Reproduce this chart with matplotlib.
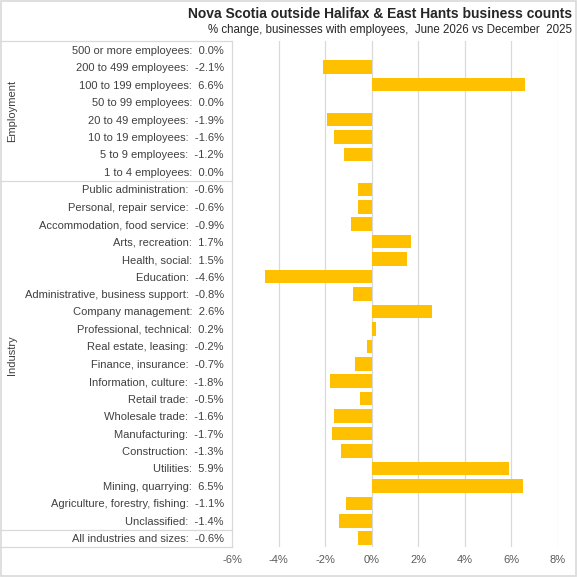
import matplotlib
matplotlib.use("Agg")
import matplotlib.pyplot as plt
from matplotlib.patches import Rectangle
from matplotlib.lines import Line2D

plt.rcParams['font.family'] = ['Liberation Sans Narrow', 'Liberation Sans', 'DejaVu Sans']

employment_labels = ["500 or more employees", "200 to 499 employees", "100 to 199 employees",
                     "50 to 99 employees", "20 to 49 employees", "10 to 19 employees",
                     "5 to 9 employees", "1 to 4 employees"]
employment_values = [0.0, -2.1, 6.6, 0.0, -1.9, -1.6, -1.2, 0.0]

industry_labels = ["Public administration", "Personal, repair service", "Accommodation, food service",
                   "Arts, recreation", "Health, social", "Education", "Administrative, business support",
                   "Company management", "Professional, technical", "Real estate, leasing",
                   "Finance, insurance", "Information, culture", "Retail trade", "Wholesale trade",
                   "Manufacturing", "Construction", "Utilities", "Mining, quarrying",
                   "Agriculture, forestry, fishing", "Unclassified"]
industry_values = [-0.6, -0.6, -0.9, 1.7, 1.5, -4.6, -0.8, 2.6, 0.2, -0.2, -0.7, -1.8, -0.5,
                   -1.6, -1.7, -1.3, 5.9, 6.5, -1.1, -1.4]

total_labels = ["All industries and sizes"]
total_values = [-0.6]

group_names = ["Employment", "Industry", ""]
x_ticks = [-6, -4, -2, 0, 2, 4, 6, 8]

title = "Nova Scotia outside Halifax & East Hants business counts"
subtitle = "% change, businesses with employees,  June 2026 vs December  2025"

labels = employment_labels + industry_labels + total_labels
values = employment_values + industry_values + total_values
groups = [employment_labels, industry_labels, total_labels]

W, H = 577, 577
fig = plt.figure(figsize=(W / 100, H / 100), dpi=100)
fig.patch.set_facecolor('white')
fig.add_artist(Rectangle((0.001, 0.001), 0.997, 0.997, transform=fig.transFigure,
                         fill=False, edgecolor='#d9d9d9', linewidth=1.2))

left, right, top, bottom = 232 / W, 558 / W, 1 - 41 / H, 1 - 547 / H
ax = fig.add_axes([left, bottom, right - left, top - bottom])

n = len(labels)
ypos = list(range(n))
ax.barh(ypos, values, height=0.78, color='#FFC000', zorder=3)
ax.set_ylim(n - 0.5, -0.5)
ax.set_xlim(x_ticks[0], x_ticks[-1])
ax.set_xticks(x_ticks)
ax.set_xticklabels([f"{t}%" for t in x_ticks], color='#595959', fontsize=8)
ax.set_yticks(ypos)
ax.set_yticklabels([f"{l}:  {v:.1f}%" for l, v in zip(labels, values)], color='#404040', fontsize=8)
ax.tick_params(axis='both', length=0)
ax.tick_params(axis='y', pad=6)
ax.tick_params(axis='x', pad=6)
for s in ax.spines.values():
    s.set_visible(False)
for t in x_ticks[1:]:
    ax.axvline(t, color='#d9d9d9', linewidth=0.9, zorder=1)

# table lines on the category side
tr = ax.get_yaxis_transform()
x0 = -left / (right - left)
line_kw = dict(color='#d9d9d9', linewidth=0.9, clip_on=False)
bounds = [-0.5]
c = -0.5
for g in groups:
    c += len(g)
    bounds.append(c)
for b in bounds:
    ax.add_line(Line2D([x0, 0], [b, b], transform=tr, **line_kw))
ax.add_line(Line2D([0, 0], [-0.5, n - 0.5], transform=tr, **line_kw))

# group labels
start = -0.5
for g, name in zip(groups, group_names):
    mid = start + len(g) / 2
    if name:
        ax.text(x0 + 12 / (right - left) / W, mid, name, transform=tr, rotation=90,
                ha='center', va='center', fontsize=8, color='#404040')
    start += len(g)

fig.text(572 / W, 1 - 14 / H, title, ha='right', va='center', fontsize=10,
         fontweight='bold', color='#262626')
fig.text(572 / W, 1 - 30 / H, subtitle, ha='right', va='center', fontsize=8.3, color='#262626')

fig.savefig("out.png", dpi=100)
